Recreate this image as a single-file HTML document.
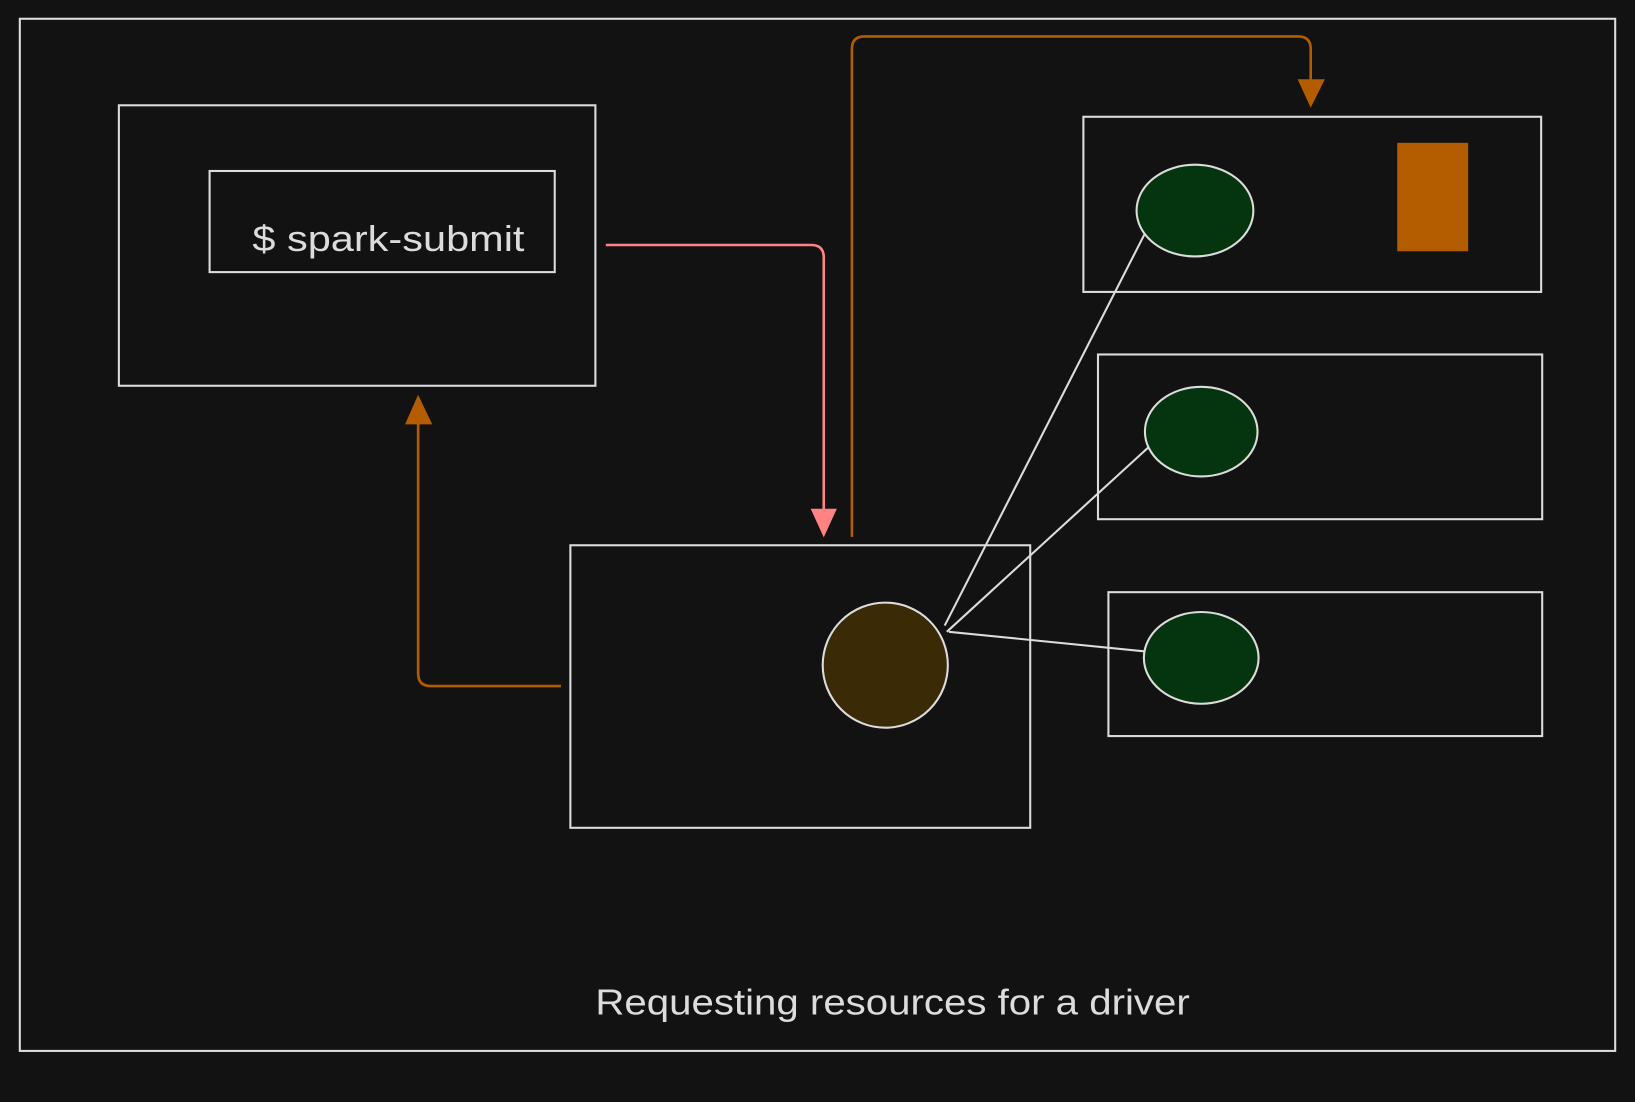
<!DOCTYPE html>
<html><head><meta charset="utf-8"><style>
html,body{margin:0;padding:0;background:#121212;}
svg{display:block}
text{font-family:"Liberation Sans",sans-serif;fill:#dcdcdc}
</style></head><body>
<svg width="1635" height="1102" viewBox="0 0 1568 1057" preserveAspectRatio="none" xmlns="http://www.w3.org/2000/svg">
<rect width="1568" height="1057" fill="#121212"/>
<g fill="none" stroke="#dcdcdc" stroke-width="2">
<rect x="19" y="18" width="1530" height="990"/>
<rect x="114" y="101" width="457" height="269"/>
<rect x="201" y="164" width="331" height="97"/>
<rect x="547" y="523" width="441" height="271"/>
<rect x="1039" y="112" width="439" height="168"/>
<rect x="1053" y="340" width="426" height="158"/>
<rect x="1063" y="568" width="416" height="138"/>
<line x1="906" y1="600" x2="1100" y2="220"/>
<line x1="908" y1="606" x2="1108" y2="423"/>
<line x1="910" y1="606" x2="1100" y2="625"/>
</g>
<circle cx="849" cy="638" r="60" fill="#3a2a05" stroke="#dcdcdc" stroke-width="2"/>
<ellipse cx="1146" cy="202" rx="56" ry="44" fill="#04350f" stroke="#dcdcdc" stroke-width="2"/>
<ellipse cx="1152" cy="414" rx="54" ry="43" fill="#04350f" stroke="#dcdcdc" stroke-width="2"/>
<ellipse cx="1152" cy="631" rx="55" ry="44" fill="#04350f" stroke="#dcdcdc" stroke-width="2"/>
<rect x="1341" y="138" width="66" height="102" fill="#b35c00" stroke="#b35c00" stroke-width="2"/>
<path d="M581 235 H778 Q790 235 790 247 V505" fill="none" stroke="#ff8383" stroke-width="2.5"/>
<polygon points="779,489 801,489 790,513" fill="#ff8383" stroke="#ff8383" stroke-width="2"/>
<path d="M817 515 V47 Q817 35 829 35 H1245 Q1257 35 1257 47 V85" fill="none" stroke="#b35c00" stroke-width="2.5"/>
<polygon points="1246,77 1269,77 1257,101" fill="#b35c00" stroke="#b35c00" stroke-width="2"/>
<path d="M538 658 H413 Q401 658 401 646 V395" fill="none" stroke="#b35c00" stroke-width="2.5"/>
<polygon points="390,406 413,406 401,381" fill="#b35c00" stroke="#b35c00" stroke-width="2"/>
<text x="242" y="241" font-size="35" textLength="261" lengthAdjust="spacingAndGlyphs">$ spark-submit</text>
<text x="571" y="973" font-size="35" textLength="570" lengthAdjust="spacingAndGlyphs">Requesting resources for a driver</text>
</svg>
</body></html>
